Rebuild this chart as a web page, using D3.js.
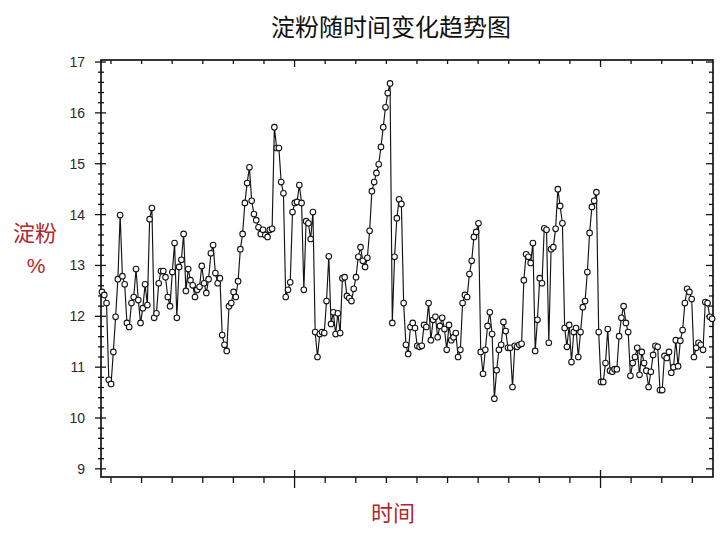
<!DOCTYPE html>
<html><head><meta charset="utf-8">
<script src="https://cdn.jsdelivr.net/npm/d3@7"></script>
<style>body{margin:0;background:#fff}svg{display:block}</style>
</head><body><svg id="c" width="726" height="545"></svg>
<script>
const title = "淀粉随时间变化趋势图";
const yTitleLines = ["淀粉", "%"];
const xTitle = "时间";
const yTickLabels = [9, 10, 11, 12, 13, 14, 15, 16, 17];

const starchPart1 = [12.48,12.42,12.26,10.75,10.67,11.30,11.99,12.73,13.99,12.79,12.63,11.87,11.79,12.26,12.38,12.93,12.32,11.87,12.16,12.63,12.22,13.91,14.13,11.97,12.06,12.65,12.89,12.89,12.77,12.38,12.20,12.87,13.44,11.97,12.97,13.11,13.62,12.50,12.93,12.71,12.61,12.38,12.52,12.58,12.99];
const starchPart2 = [12.65,12.46,12.73,13.24,13.40,12.85,12.65,12.75,11.63,11.44,11.32,12.20,12.26,12.48,12.38,12.69,13.32,13.62,14.23,14.62,14.93,14.27,14.01,13.89,13.75,13.62,13.70,13.60,13.56,13.70,13.72,15.72,15.31,15.31,14.64,14.42,12.38,12.52,12.67,14.05,14.23,14.25,14.58,14.23,12.52,13.87,13.83,13.52,14.05,11.69,11.20,11.65,11.69,11.67,12.30,13.18,11.85,12.08,11.65,12.06,11.67,12.75,12.77,12.40,12.36,12.30,12.54,12.77,13.17,13.36,13.09,12.97,13.15,13.68,14.46,14.64,14.82,14.99,15.33,15.72,16.11,16.39,16.58,11.87,13.17,13.93,14.30,14.21,12.26,11.44];
const starchPart3 = [11.26,11.79,11.87,11.77,11.42,11.40,11.42,11.83,11.79,12.26,11.53,11.93,11.99,11.59,11.81,11.97,11.75,11.34,11.83,11.53,11.59,11.67,11.20,11.34,12.26,12.42,12.38,12.83,13.09,13.56,13.66,13.83,11.30,10.87,11.34,11.81,12.08,11.65,10.38,10.94,11.34,11.44,11.89,11.71,11.38,11.38,10.61,11.42,11.40,11.44,11.46,12.71,13.22,13.17,13.05,13.44,11.32,11.93,12.75,12.65,13.73,13.70,11.48,13.32,13.36,13.72,14.50,14.17,13.83,11.77,11.40,11.83,11.10,11.69,11.77,11.20,11.69,12.18,12.30,12.87,13.64,14.15,14.27,14.44,11.69,10.71,10.71,11.08,11.75,10.93];
const starchPart4 = [10.91,10.96,10.96,11.61,11.97,12.20,11.87,11.69,10.83,11.08,11.20,11.38,10.85,11.30,11.08,10.93,10.61,10.91,11.24,11.42,11.40,10.55,10.55,11.22,11.18,11.30,10.89,11.00,11.53,11.02,11.52,11.73,12.26,12.54,12.48,12.34,11.20,11.38,11.48,11.44,11.34,12.28,12.26,11.99,11.95];

const starch = [].concat(starchPart1, starchPart2, starchPart3, starchPart4);
const data = starch.map((v, i) => ({t: i, v: v}));

// x ticks (time axis, unlabeled), in sample-index units
const xTickStart = 3.97, xTickStep = 13.49, xTickCount = 20, xMajorEvery = [6, 16];
const xTicks = d3.range(xTickCount).map(k => xTickStart + xTickStep * k);
const xMajorTicks = xMajorEvery.map(k => xTicks[k]);
const yMinorTicks = d3.range(45).map(k => 8.8 + 0.2 * k).filter(v => v >= 8.99 && v <= 17.01 && Math.abs(v - Math.round(v)) > 0.01);

const L = 101, R = 713, T = 60, B = 477;
const x = d3.scaleLinear().domain([-0.44, 269.4]).range([L, R]);
const y = d3.scaleLinear().domain([8.84, 17.04]).range([B, T]);

const svg = d3.select("#c");
const ink = "#141414";
const red = "#b3272d";

svg.append("rect").attr("x", L).attr("y", T).attr("width", R - L).attr("height", B - T)
  .attr("fill", "none").attr("stroke", ink).attr("stroke-width", 1.7);

const g = svg.append("g").attr("stroke", ink).attr("stroke-width", 1.3);
// left axis ticks
yTickLabels.forEach(v => g.append("line").attr("x1", L - 6).attr("x2", L + 5).attr("y1", y(v)).attr("y2", y(v)));
yMinorTicks.forEach(v => g.append("line").attr("x1", L - 3).attr("x2", L + 3).attr("y1", y(v)).attr("y2", y(v)));
// right axis ticks
yTickLabels.forEach(v => g.append("line").attr("x1", R - 7).attr("x2", R).attr("y1", y(v)).attr("y2", y(v)));
yMinorTicks.forEach(v => g.append("line").attr("x1", R - 4).attr("x2", R).attr("y1", y(v)).attr("y2", y(v)));
// bottom/top ticks
xTicks.forEach(t => {
  const major = xMajorTicks.includes(t);
  g.append("line").attr("x1", x(t)).attr("x2", x(t)).attr("y1", B - (major ? 7 : 0)).attr("y2", B + (major ? 11 : 6));
  g.append("line").attr("x1", x(t)).attr("x2", x(t)).attr("y1", T).attr("y2", T + (major ? 7 : 4));
});

// y tick labels
svg.append("g").selectAll("text").data(yTickLabels).join("text")
  .attr("x", L - 16).attr("y", d => y(d)).attr("dy", "0.36em")
  .attr("text-anchor", "end").attr("font-family", "Liberation Sans, Arial, sans-serif")
  .attr("font-size", 14).attr("fill", "#2a2a2a").text(d => d);

// series
const line = d3.line().x(d => x(d.t)).y(d => y(d.v));
svg.append("path").datum(data).attr("d", line).attr("fill", "none")
  .attr("stroke", ink).attr("stroke-width", 1.15);
svg.append("g").selectAll("circle").data(data).join("circle")
  .attr("cx", d => x(d.t)).attr("cy", d => y(d.v)).attr("r", 2.8)
  .attr("fill", "#fff").attr("stroke", ink).attr("stroke-width", 1.1);

// titles
const cjk = "Noto Sans CJK SC, sans-serif";
svg.append("text").attr("x", 391).attr("y", 36).attr("text-anchor", "middle")
  .attr("font-family", cjk).attr("font-size", 24).attr("fill", "#111").text(title);
svg.append("text").attr("x", 35).attr("y", 241).attr("text-anchor", "middle")
  .attr("font-family", cjk).attr("font-size", 22).attr("fill", red).text(yTitleLines[0]);
svg.append("text").attr("x", 36).attr("y", 273).attr("text-anchor", "middle")
  .attr("font-family", "Liberation Sans, Arial, sans-serif").attr("font-size", 21).attr("fill", red).text(yTitleLines[1]);
svg.append("text").attr("x", 393).attr("y", 521).attr("text-anchor", "middle")
  .attr("font-family", cjk).attr("font-size", 22).attr("fill", red).text(xTitle);
</script></body></html>
